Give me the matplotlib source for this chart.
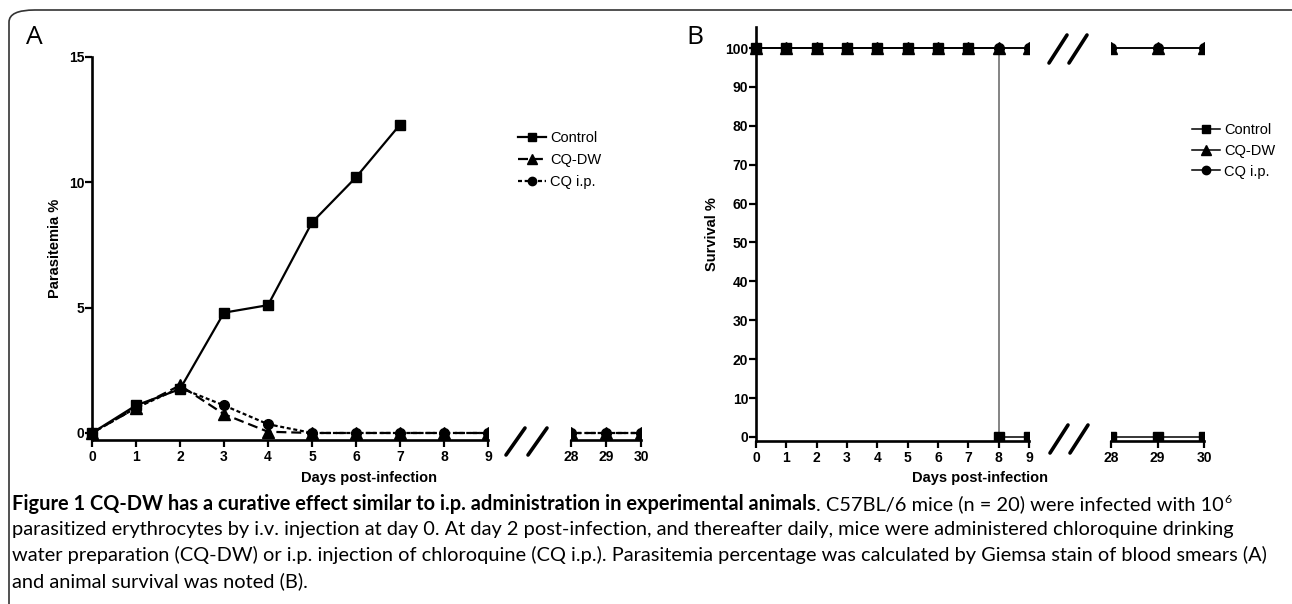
import matplotlib
matplotlib.use("Agg")
import matplotlib.pyplot as plt
from matplotlib.patches import FancyBboxPatch
from matplotlib.lines import Line2D

# ----------------------------------------------------------------------
# data
# ----------------------------------------------------------------------
days_early = [0, 1, 2, 3, 4, 5, 6, 7, 8, 9]
days_late = [28, 29, 30]

# A: parasitemia %
control_days = [0, 1, 2, 3, 4, 5, 6, 7]
control_par = [0, 1.1, 1.75, 4.8, 5.1, 8.4, 10.2, 12.3]
cqdw_par = [0, 1.0, 1.9, 0.75, 0.05, 0, 0, 0, 0, 0]
cqdw_par_late = [0, 0, 0]
cqip_par = [0, 1.0, 1.8, 1.1, 0.35, 0, 0, 0, 0, 0]
cqip_par_late = [0, 0, 0]

# B: survival %
control_surv = [100, 100, 100, 100, 100, 100, 100, 100, 0, 0]
control_surv_late = [0, 0, 0]
cqdw_surv = [100, 100, 100, 100, 100, 100, 100, 100, 100, 100]
cqdw_surv_late = [100, 100, 100]
cqip_surv = [100, 100, 100, 100, 100, 100, 100, 100, 100, 100]
cqip_surv_late = [100, 100, 100]

yticks_a = [0, 5, 10, 15]
yticks_b = [0, 10, 20, 30, 40, 50, 60, 70, 80, 90, 100]
series_names = ["Control", "CQ-DW", "CQ i.p."]

W, H = 1292, 604
fig = plt.figure(figsize=(W / 100, H / 100), dpi=100)

def fx(px):
    return px / W

def fy(py):
    return 1 - py / H

def box(l, r, t, b):
    return [fx(l), fy(b), (r - l) / W, (b - t) / H]

TICK_FONT = dict(family="Liberation Sans", weight="bold", size=10)
LAB_FONT = dict(family="Liberation Sans", weight="bold", size=10.5)
LEG_FONT = dict(family="Liberation Sans", size=10.5)

def style(ax, xticks, xlim, ylim, yticks=None, first=True):
    ax.set_xlim(*xlim)
    ax.set_ylim(*ylim)
    for s in ["top", "right"]:
        ax.spines[s].set_visible(False)
    ax.spines["bottom"].set_linewidth(1.9)
    ax.spines["bottom"].set_bounds(xticks[0], xticks[-1])
    ax.set_xticks(xticks)
    ax.set_xticklabels([str(t) for t in xticks], **TICK_FONT)
    ax.tick_params(axis="x", direction="out", length=5, width=1.6, pad=2)
    if first:
        ax.spines["left"].set_position(("data", 0))
        ax.spines["left"].set_linewidth(1.9)
        ax.spines["left"].set_bounds(ylim[0], ylim[1])
        ax.set_yticks(yticks)
        ax.set_yticklabels([str(t) for t in yticks], **TICK_FONT)
        ax.tick_params(axis="y", direction="out", length=5, width=1.6, pad=0.5)
    else:
        ax.spines["left"].set_visible(False)
        ax.set_yticks([])
    ax.patch.set_visible(False)

# ----------------------------------------------------------------------
# Panel A - parasitemia
# ----------------------------------------------------------------------
ylim_a = (-0.28, 15)
a1 = fig.add_axes(box(78.8, 488, 57, 440))
a2 = fig.add_axes(box(571, 641, 57, 440))
style(a1, list(range(10)), (-0.3, 9), ylim_a, yticks_a)
style(a2, days_late, (28, 30), ylim_a, first=False)

dash = (0, (4.5, 2.2))
dot = (0, (1.8, 1.2))
for ax, d, dw, ip in [(a1, days_early, cqdw_par, cqip_par),
                      (a2, days_late, cqdw_par_late, cqip_par_late)]:
    ax.plot(d, ip, color="k", ls=dot, lw=1.6, marker="o", ms=7)
    ax.plot(d, dw, color="k", ls=dash, lw=1.6, marker="^", ms=8)
a1.plot(control_days, control_par, color="k", lw=1.6, marker="s", ms=7)

hA = [Line2D([], [], color="k", lw=1.6, marker="s", ms=6),
      Line2D([], [], color="k", lw=1.6, ls=dash, marker="^", ms=7),
      Line2D([], [], color="k", lw=1.6, ls=dot, marker="o", ms=6)]
fig.legend(hA, series_names, loc="center left",
           bbox_to_anchor=(fx(518), fy(160)), frameon=False, prop=LEG_FONT,
           handlelength=1.9, handletextpad=0.3, labelspacing=0.55,
           borderpad=0, borderaxespad=0)

fig.text(fx(55), fy(248), "Parasitemia %", rotation=90,
         ha="center", va="center", **LAB_FONT)
fig.text(fx(369), fy(471), "Days post-infection", ha="center", va="top",
         **LAB_FONT)

# ----------------------------------------------------------------------
# Panel B - survival
# ----------------------------------------------------------------------
ylim_b = (-1.03, 105.4)
b1 = fig.add_axes(box(746.9, 1029, 27, 441))
b2 = fig.add_axes(box(1111, 1204, 27, 441))
style(b1, list(range(10)), (-0.3, 9), ylim_b, yticks_b)
style(b2, days_late, (28, 30), ylim_b, first=False)

for ax, d, c, dw, ip in [(b1, days_early, control_surv, cqdw_surv, cqip_surv),
                         (b2, days_late, control_surv_late, cqdw_surv_late,
                          cqip_surv_late)]:
    ax.plot(d, ip, color="k", lw=1.1, zorder=2)
    ax.plot(d, dw, color="k", lw=1.1, zorder=2)
    ax.plot(d, c, color="k", lw=1.1, drawstyle="steps-post", zorder=2)
    ax.plot(d, ip, ls="none", color="k", marker="o", ms=7, zorder=3)
    ax.plot(d, dw, ls="none", color="k", marker="^", ms=8, zorder=3)
    ax.plot(d, c, ls="none", color="k", marker="s", ms=7, zorder=3)

# drop line where the control group dies
for i in range(1, len(control_surv)):
    if control_surv[i] < control_surv[i - 1]:
        b1.vlines(days_early[i], control_surv[i], control_surv[i - 1],
                  colors="#8a8a8a", lw=1.4, zorder=2.5)

hB = [Line2D([], [], color="k", lw=1.1, marker="s", ms=6),
      Line2D([], [], color="k", lw=1.1, marker="^", ms=7),
      Line2D([], [], color="k", lw=1.1, marker="o", ms=6)]
fig.legend(hB, series_names, loc="center left",
           bbox_to_anchor=(fx(1192), fy(151)), frameon=False, prop=LEG_FONT,
           handlelength=1.9, handletextpad=0.3, labelspacing=0.45,
           borderpad=0, borderaxespad=0)

fig.text(fx(712), fy(234), "Survival %", rotation=90,
         ha="center", va="center", **LAB_FONT)
fig.text(fx(980), fy(471), "Days post-infection", ha="center", va="top",
         **LAB_FONT)

# axis break marks
def brk(x0, y0, x1, y1):
    fig.add_artist(Line2D([fx(x0), fx(x1)], [fy(y0), fy(y1)], color="k",
                          lw=2.6, solid_capstyle="round"))

brk(506, 455, 525, 428)
brk(528, 455, 547, 428)
brk(1049, 63, 1067, 35)
brk(1069, 63, 1087, 35)
brk(1050, 453, 1068, 425)
brk(1070, 453, 1088, 425)

# panel letters
fig.text(fx(26), fy(38), "A", fontsize=19, family="Open Sans",
         va="center", ha="left")
fig.text(fx(686), fy(38), "B", fontsize=19, family="Open Sans",
         va="center", ha="left")

# frame (only top and left edges fall inside the picture)
fig.add_artist(FancyBboxPatch((fx(9), fy(700)), fx(1400) - fx(9),
                              fy(10) - fy(700),
                              boxstyle="round,pad=0,rounding_size=0.02",
                              transform=fig.transFigure, fill=False,
                              ec="#333333", lw=1.2))

# ----------------------------------------------------------------------
# caption
# ----------------------------------------------------------------------
CAP = ["Lato", "DejaVu Sans"]
renderer = fig.canvas.get_renderer()

cap_bold = ("Figure 1 CQ-DW has a curative effect similar to i.p. "
            "administration in experimental animals")
cap_1 = ". C57BL/6 mice (n = 20) were infected with 10"
cap_2 = ("parasitized erythrocytes by i.v. injection at day 0. At day 2 "
         "post-infection, and thereafter daily, mice were administered "
         "chloroquine drinking")
cap_3 = ("water preparation (CQ-DW) or i.p. injection of chloroquine "
         "(CQ i.p.). Parasitemia percentage was calculated by Giemsa stain "
         "of blood smears (A)")
cap_4 = "and animal survival was noted (B)."

def width(s, size, **kw):
    t = fig.text(0, 0, s, size=size, family=CAP, **kw)
    w = t.get_window_extent(renderer).width
    t.remove()
    return w

# pick one size so that the widest lines fit the reference widths
s1 = 10 * 1264 / (width(cap_bold, 10, weight="bold") + width(cap_1, 10)
                  + width("6", 6.5))
s3 = 10 * 1258 / width(cap_3, 10)
CAP_SIZE = min(s1, s3)

def put(x, y, s, **kw):
    t = fig.text(x, y, s, va="baseline", ha="left", family=CAP, **kw)
    bb = t.get_window_extent(renderer)
    return bb.x1 / W

x0 = fx(12)
y1 = fy(510)
x = put(x0, y1, cap_bold, size=CAP_SIZE, weight="bold")
x = put(x, y1, cap_1, size=CAP_SIZE)
put(x + 0.0005, y1 + 0.012, "6", size=CAP_SIZE * 0.62)
put(x0, fy(535), cap_2, size=CAP_SIZE)
put(x0, fy(561), cap_3, size=CAP_SIZE)
put(x0, fy(587), cap_4, size=CAP_SIZE)

fig.savefig("out.png", dpi=100)
